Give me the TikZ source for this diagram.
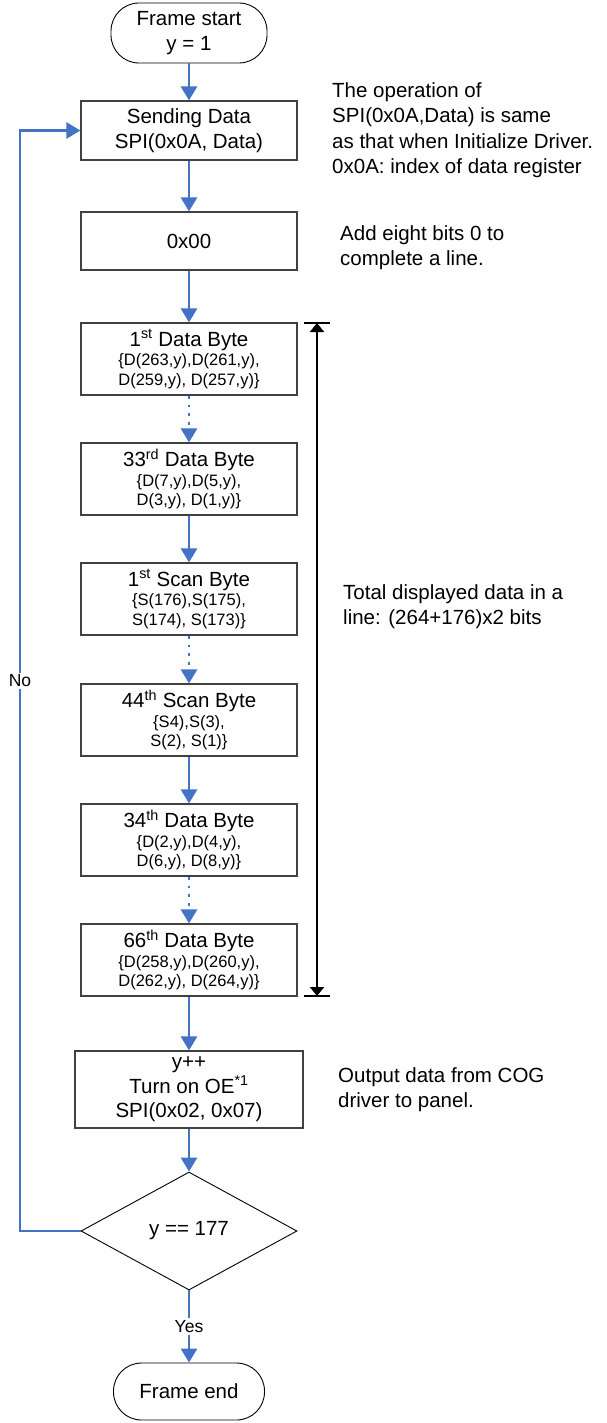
\documentclass[tikz,border=0pt]{standalone}
\usepackage{fontspec}
\setmainfont{Liberation Sans}
\usetikzlibrary{arrows.meta,shapes.geometric}
\definecolor{flowblue}{HTML}{4472C4}
\definecolor{boxgray}{HTML}{404040}
\newcommand{\boxtitle}[1]{{\fontsize{20.5}{24}\selectfont #1}}
\begin{document}
\begin{tikzpicture}[x=1pt,y=-1pt,
  mainf/.style={font=\fontsize{20.5}{25.5}\selectfont},
  procbox/.style={draw=boxgray, line width=1.2pt, minimum width=216pt, minimum height=59pt, inner sep=0pt, align=center, mainf},
  databox/.style={draw=boxgray, line width=1.2pt, minimum width=216pt, minimum height=72pt, inner sep=0pt, align=center, font=\fontsize{16.5}{19.5}\selectfont},
  term/.style={draw=black, line width=0.9pt, rounded corners=28pt, minimum width=156pt, minimum height=60pt, inner sep=0pt, align=center, mainf},
  decision/.style={draw=black, line width=0.9pt, diamond, minimum width=216pt, minimum height=118pt, inner sep=0pt, mainf},
  flow/.style={draw=flowblue, line width=2.9pt, -{Triangle[width=16pt,length=14pt]}},
  flowdot/.style={flow, dash pattern=on 2.9pt off 6pt},
  note/.style={mainf, align=left, anchor=north west, inner sep=0pt},
  lbl/.style={fill=white, inner sep=2pt, font=\fontsize{17.5}{20}\selectfont},
  span/.style={draw=black, line width=2pt, {Triangle[width=14pt,length=9pt]}-{Triangle[width=14pt,length=9pt]}},
  bar/.style={draw=black, line width=2pt}
]
\useasboundingbox (0,0) rectangle (607,1423);

\node[term] (start) at (189,33) {Frame start\\y = 1};
\node[procbox] (send) at (189,130.5) {Sending Data\\SPI(0x0A, Data)};
\node[procbox, minimum height=58pt] (zero) at (189,241) {0x00};
\node[databox] (d1) at (189,359) {\boxtitle{1\textsuperscript{st} Data Byte}\\\{D(263,y),D(261,y),\\D(259,y), D(257,y)\}};
\node[databox] (d33) at (189,479) {\boxtitle{33\textsuperscript{rd} Data Byte}\\\{D(7,y),D(5,y),\\D(3,y), D(1,y)\}};
\node[databox] (s1) at (189,599) {\boxtitle{1\textsuperscript{st} Scan Byte}\\\{S(176),S(175),\\S(174), S(173)\}};
\node[databox] (s44) at (189,720) {\boxtitle{44\textsuperscript{th} Scan Byte}\\\{S4),S(3),\\S(2), S(1)\}};
\node[databox] (d34) at (189,840) {\boxtitle{34\textsuperscript{th} Data Byte}\\\{D(2,y),D(4,y),\\D(6,y), D(8,y)\}};
\node[databox] (d66) at (189,960) {\boxtitle{66\textsuperscript{th} Data Byte}\\\{D(258,y),D(260,y),\\D(262,y), D(264,y)\}};
\node[procbox, minimum width=228pt, minimum height=77pt, font=\fontsize{20.5}{24.5}\selectfont] (inc) at (189,1089.5) {y++\\Turn on OE\textsuperscript{*1}\\SPI(0x02, 0x07)};
\node[decision] (chk) at (189,1231) {y == 177};
\node[term, minimum width=151pt, minimum height=57pt] (end) at (189,1391.5) {Frame end};

\draw[flow] (start) -- (send);
\draw[flow] (send) -- (zero);
\draw[flow] (zero) -- (d1);
\draw[flowdot] (d1) -- (d33);
\draw[flow] (d33) -- (s1);
\draw[flowdot] (s1) -- (s44);
\draw[flow] (s44) -- (d34);
\draw[flowdot] (d34) -- (d66);
\draw[flow] (d66) -- (inc);
\draw[flow] (inc) -- (chk);
\draw[flow] (chk) -- node[lbl] (yes) {Yes} (end);

\coordinate (lb) at (20,1231);
\coordinate (lt) at (20,130.5);
\draw[flow] (chk.west) -- (lb) -- node[lbl] (no) {No} (lt) -- (send.west);

\coordinate (bt) at (317,323);
\coordinate (bb) at (317,996);
\draw[span] (bt) -- (bb);
\draw[bar] ([xshift=-13pt]bt) -- ([xshift=13pt]bt);
\draw[bar] ([xshift=-13pt]bb) -- ([xshift=13pt]bb);

\node[note] (n1) at (332,82) {The operation of\\SPI(0x0A,Data) is same\\as that when Initialize Driver.\\0x0A: index of data register};
\node[note] (n2) at (340,225) {Add eight bits 0 to\\complete a line.};
\node[note] (n3) at (343,584) {Total displayed data in a\\line: (264+176)x2 bits};
\node[note] (n4) at (338,1067) {Output data from COG\\driver to panel.};
\end{tikzpicture}
\end{document}
